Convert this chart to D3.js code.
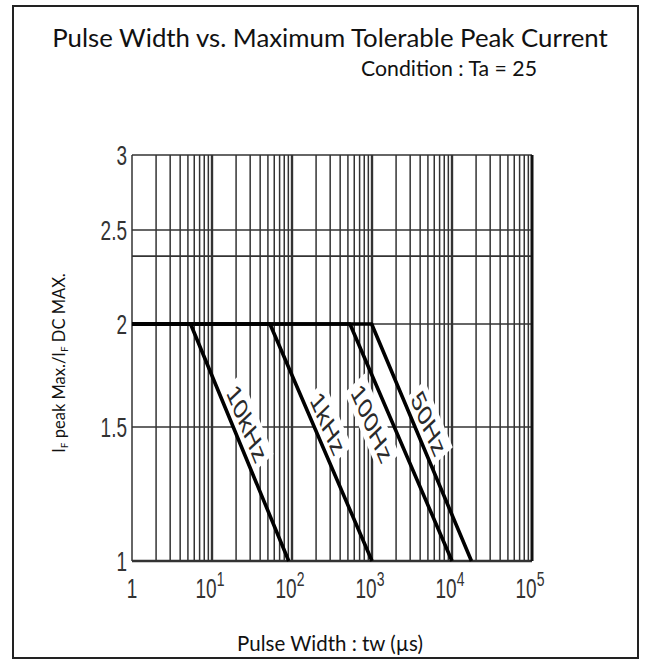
<!DOCTYPE html>
<html>
<head>
<meta charset="utf-8">
<script src="https://cdn.jsdelivr.net/npm/d3@7"></script>
<style>
  html, body { margin: 0; padding: 0; background: #fff; }
  svg { display: block; }
</style>
</head>
<body>
<svg id="chart" width="651" height="664"></svg>
<script>
// ---------------- data ----------------
const titleText = "Pulse Width vs. Maximum Tolerable Peak Current";
const conditionText = "Condition : Ta = 25";
const xTitleText = "Pulse Width : tw (\u00b5s)";

const xTickValues = [1, 10, 100, 1000, 10000, 100000];
const xTickBases = ["1", "10", "10", "10", "10", "10"];
const xTickExponents = ["", "1", "2", "3", "4", "5"];

const yTickValues = [1, 1.5, 2, 2.5, 3];
const yTickLabels = ["1", "1.5", "2", "2.5", "3"];
const yExtraGridValues = [2.35];

const seriesNames = ["10kHz", "1kHz", "100Hz", "50Hz"];
const plateauValue = [2, 2, 2, 2];
const kneeWidth = [5.4, 53, 530, 990];
const endWidth = [91, 1000, 10000, 17500];
const endValue = [1, 1, 1, 1];

// ---------------- layout ----------------
const svg = d3.select("#chart");
const plot = { left: 132, right: 532, top: 155, bottom: 561 };
const stretch = 1.5; // vertical stretch of the plotted figure text

const x = d3.scaleLog().domain([1, 1e5]).range([plot.left, plot.right]);
// y axis of the original figure is irregular; piecewise log scale through the labelled ticks
const y = d3.scaleLog().domain(yTickValues).range([561, 427, 324, 230, 155]);

// outer frame
svg.append("rect").attr("x", 13).attr("y", 6).attr("width", 625).attr("height", 652)
  .attr("fill", "none").attr("stroke", "#222").attr("stroke-width", 2);

function fitText(sel, width) {
  const w = sel.node().getComputedTextLength();
  const fs = parseFloat(sel.attr("font-size"));
  sel.attr("font-size", fs * width / w);
}
const title = svg.append("text").attr("x", 330).attr("y", 47)
  .attr("text-anchor", "middle").attr("font-family", "Lato, 'Open Sans', sans-serif")
  .attr("font-size", 22).attr("fill", "#111").text(titleText);
fitText(title, 556);

const cond = svg.append("text").attr("x", 537).attr("y", 76)
  .attr("text-anchor", "end").attr("font-family", "Lato, 'Open Sans', sans-serif")
  .attr("font-size", 17).attr("fill", "#111").text(conditionText);
fitText(cond, 176);

// grid
const grid = svg.append("g");
const vValues = [];
for (let d = 0; d < 5; d++) for (let m = 1; m <= 9; m++) vValues.push(m * Math.pow(10, d));
vValues.push(1e5);

grid.selectAll("line.v").data(vValues).join("line")
  .attr("x1", d => x(d)).attr("x2", d => x(d))
  .attr("y1", plot.top).attr("y2", plot.bottom)
  .attr("stroke", "#333")
  .attr("stroke-width", d => (Math.abs(Math.log10(d) - Math.round(Math.log10(d))) < 1e-9 && d > 1 ? 2.4 : 1.5));

grid.selectAll("line.h").data(yTickValues.concat(yExtraGridValues)).join("line")
  .attr("x1", plot.left).attr("x2", plot.right)
  .attr("y1", d => y(d)).attr("y2", d => y(d))
  .attr("stroke", "#333").attr("stroke-width", d => d === 1 ? 2.4 : 1.7);

svg.append("line").attr("x1", plot.right).attr("x2", plot.right)
  .attr("y1", plot.top).attr("y2", plot.bottom).attr("stroke", "#111").attr("stroke-width", 2.8);

// series
const series = seriesNames.map((name, i) => ({
  name,
  pts: [[1, plateauValue[i]], [kneeWidth[i], plateauValue[i]], [endWidth[i], endValue[i]]]
}));
const line = d3.line().x(d => x(d[0])).y(d => y(d[1]));

// labels (white background boxes interrupt grid)
const labelSide = { "10kHz": 15, "1kHz": 15, "100Hz": -21, "50Hz": 15 };
const labelLayer = svg.append("g");
series.forEach(s => {
  const p1 = [x(s.pts[1][0]), y(s.pts[1][1])];
  const p2 = [x(s.pts[2][0]), y(s.pts[2][1])];
  const t = 0.42;
  const cx = p1[0] + t * (p2[0] - p1[0]) + labelSide[s.name];
  const cy = p1[1] + t * (p2[1] - p1[1]);
  const ang = Math.atan2((p2[1] - p1[1]) / stretch, p2[0] - p1[0]) * 180 / Math.PI;
  const g = labelLayer.append("g")
    .attr("transform", `translate(${cx},${cy}) scale(1,${stretch}) rotate(${ang})`);
  const bg = g.append("rect").attr("fill", "#fff");
  const tx = g.append("text").attr("text-anchor", "middle").attr("dy", "0.35em")
    .attr("font-family", "'Liberation Sans', Arial, sans-serif").attr("font-size", 20)
    .attr("fill", "#2a2a2a").text(s.name);
  const bb = tx.node().getBBox();
  bg.attr("x", bb.x - 3).attr("y", bb.y - 1).attr("width", bb.width + 6).attr("height", bb.height + 2);
});

svg.append("g").selectAll("path").data(series).join("path")
  .attr("d", d => line(d.pts)).attr("fill", "none")
  .attr("stroke", "#000").attr("stroke-width", 3.6).attr("stroke-linejoin", "round");

// ticks
const tickFont = "'Liberation Sans', Arial, sans-serif";
const xt = svg.append("g");
xTickValues.forEach((v, i) => {
  const g = xt.append("g").attr("transform", `translate(${x(v) - (i ? 2 : 0)},598) scale(1,${stretch})`);
  const t = g.append("text").attr("text-anchor", "middle").attr("font-family", tickFont)
    .attr("font-size", 19).attr("fill", "#333");
  t.append("tspan").text(xTickBases[i]);
  if (xTickExponents[i]) {
    t.append("tspan").attr("font-size", 14).attr("dy", -8).text(xTickExponents[i]);
  }
});

const yt = svg.append("g");
yTickValues.forEach((v, i) => {
  const g = yt.append("g").attr("transform", `translate(127,${y(v) + 10}) scale(1,${stretch})`);
  g.append("text").attr("text-anchor", "end").attr("font-family", tickFont)
    .attr("font-size", 19).attr("fill", "#333").text(yTickLabels[i]);
});

// axis titles
const xTitle = svg.append("text").attr("x", 330).attr("y", 651).attr("text-anchor", "middle")
  .attr("font-family", "Lato, 'Open Sans', sans-serif").attr("font-size", 17).attr("fill", "#111")
  .text(xTitleText);
fitText(xTitle, 186);

const yTitle = svg.append("text").attr("transform", "translate(65,363) rotate(-90)")
  .attr("text-anchor", "middle").attr("font-family", "Lato, 'Open Sans', sans-serif")
  .attr("font-size", 16.5).attr("fill", "#111");
yTitle.append("tspan").text("I");
yTitle.append("tspan").attr("font-size", 10).attr("dy", 3).text("F");
yTitle.append("tspan").attr("dy", -3).text(" peak Max./I");
yTitle.append("tspan").attr("font-size", 10).attr("dy", 3).text("F");
yTitle.append("tspan").attr("dy", -3).text(" DC MAX.");
</script>
</body>
</html>
